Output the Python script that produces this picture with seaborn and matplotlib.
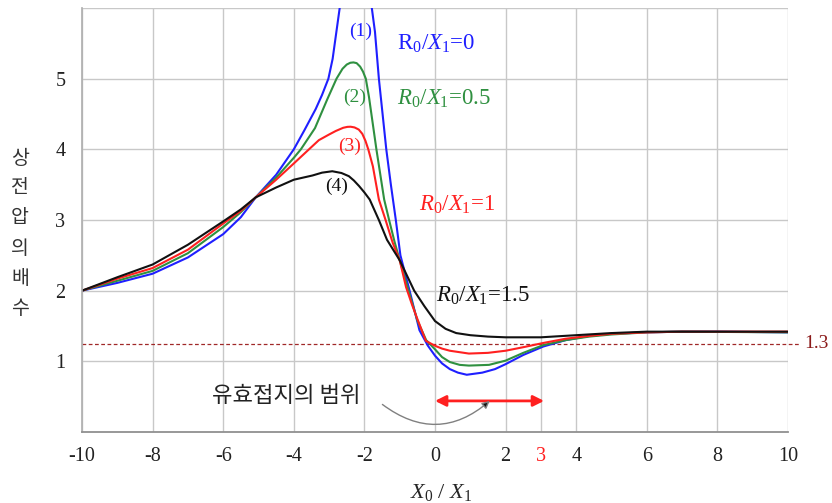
import matplotlib
matplotlib.use("Agg")
import matplotlib.pyplot as plt
import seaborn as sns
import pandas as pd

# ---- data ----
blue_left_x = [-10, -9, -8, -7, -6, -5.5, -5.08, -4.5, -4, -3.7, -3.38, -3.2, -3.02, -2.9, -2.8, -2.7, -2.6]
blue_left_y = [2.00, 2.11, 2.24, 2.47, 2.80, 3.04, 3.32, 3.64, 4.00, 4.27, 4.57, 4.77, 5.00, 5.28, 5.64, 6.00, 6.50]
blue_right_x = [-1.9, -1.79, -1.70, -1.59, -1.38, -1.25, -1.11, -0.98, -0.72, -0.44, -0.2, 0, 0.2, 0.42, 0.65, 0.9, 1.34, 1.7, 2.0, 2.5, 3.07, 3.7, 4.37, 5, 6, 7, 8, 10]
blue_right_y = [6.60, 6.00, 5.66, 5.00, 4.00, 3.50, 3.00, 2.50, 2.00, 1.44, 1.22, 1.08, 0.97, 0.89, 0.84, 0.81, 0.84, 0.89, 0.96, 1.09, 1.21, 1.30, 1.36, 1.39, 1.41, 1.42, 1.42, 1.41]

green_x = [-10, -9, -8, -7, -6, -5.5, -5.08, -4.5, -4, -3.8, -3.4, -3.05, -2.79, -2.62, -2.5, -2.4, -2.31, -2.22, -2.12, -2.04, -1.96, -1.87, -1.66, -1.44, -1.3, -1.15, -1.0, -0.75, -0.5, -0.25, 0, 0.2, 0.42, 0.7, 0.96, 1.53, 2.0, 2.5, 3.07, 3.7, 4.37, 5, 6, 7, 10]
green_y = [2.00, 2.14, 2.28, 2.53, 2.90, 3.11, 3.32, 3.60, 3.88, 4.00, 4.30, 4.71, 5.00, 5.14, 5.20, 5.225, 5.23, 5.22, 5.17, 5.10, 5.00, 4.74, 4.00, 3.29, 3.00, 2.70, 2.43, 2.00, 1.58, 1.30, 1.17, 1.06, 0.99, 0.95, 0.94, 0.95, 1.01, 1.12, 1.23, 1.30, 1.35, 1.38, 1.41, 1.42, 1.41]

red_x = [-10, -9, -8, -7, -6, -5.5, -5.08, -4.5, -4, -3.57, -3.29, -3.0, -2.81, -2.6, -2.48, -2.39, -2.28, -2.16, -2.06, -1.97, -1.89, -1.76, -1.59, -1.40, -1.2, -1.0, -0.82, -0.65, -0.5, -0.26, 0, 0.2, 0.42, 0.96, 1.5, 2.0, 2.5, 3.07, 3.7, 4.37, 5, 6, 7, 10]
red_y = [2.00, 2.17, 2.32, 2.58, 2.95, 3.13, 3.32, 3.57, 3.80, 4.00, 4.13, 4.21, 4.26, 4.305, 4.318, 4.32, 4.31, 4.28, 4.22, 4.12, 4.00, 3.76, 3.29, 3.00, 2.68, 2.43, 2.05, 1.80, 1.60, 1.29, 1.22, 1.18, 1.15, 1.11, 1.12, 1.15, 1.20, 1.26, 1.32, 1.36, 1.39, 1.41, 1.42, 1.42]

black_x = [-10, -9, -8, -7, -6, -5.5, -5.08, -4.5, -4, -3.47, -3.2, -2.91, -2.65, -2.44, -2.3, -2.15, -2.0, -1.85, -1.59, -1.36, -1.0, -0.59, -0.3, 0, 0.3, 0.6, 1.0, 1.5, 2, 3, 4, 5, 6, 10]
black_y = [2.00, 2.19, 2.37, 2.65, 2.98, 3.15, 3.32, 3.46, 3.57, 3.63, 3.67, 3.69, 3.665, 3.62, 3.56, 3.48, 3.39, 3.29, 3.00, 2.72, 2.43, 2.00, 1.78, 1.57, 1.46, 1.40, 1.37, 1.35, 1.34, 1.34, 1.37, 1.40, 1.42, 1.42]

x_ticks = [-10, -8, -6, -4, -2, 0, 2, 4, 6, 8, 10]
extra_tick = 3
y_ticks = [1, 2, 3, 4, 5]
limit_value = 1.25
limit_label = "1.3"
range_start, range_end = 0, 3
ylabel_text = "상전압의배수"
range_text = "유효접지의 범위"

C_BLUE = "#1f1fff"
C_GREEN = "#2f9040"
C_RED = "#ff2020"
C_BLACK = "#111111"

sns.set_theme(style="white")
plt.rcParams["font.family"] = ["Liberation Serif", "DejaVu Serif"]
plt.rcParams["mathtext.fontset"] = "custom"
plt.rcParams["mathtext.rm"] = "Liberation Serif"
plt.rcParams["mathtext.it"] = "Liberation Serif:italic"

fig = plt.figure(figsize=(8.32, 5.03), dpi=100)
ax = fig.add_axes([82/832, 1-432/503, (788-82)/832, (432-8)/503])

ax.set_xlim(-10, 10)
ax.set_ylim(0, 6)

# grid
grid_c = "#c8c8c8"
for xv in x_ticks:
    ax.axvline(xv, color=grid_c, lw=1.0, zorder=0)
for yv in y_ticks + [6]:
    ax.axhline(yv, color=grid_c, lw=1.0, zorder=0)
ax.vlines(extra_tick, 0, 1.6, color=grid_c, lw=1.0, zorder=0)

def draw(xs, ys, c):
    df = pd.DataFrame({"x": xs, "y": ys})
    sns.lineplot(data=df, x="x", y="y", color=c, lw=1.5, ax=ax, estimator=None, sort=False)

draw(blue_left_x, blue_left_y, C_BLUE)
draw(blue_right_x, blue_right_y, C_BLUE)
draw(green_x, green_y, C_GREEN)
draw(red_x, red_y, C_RED)
draw(black_x, black_y, C_BLACK)

# limit dashed line
ax.plot([-10, 10.32], [limit_value, limit_value], ls=(0, (3, 2)), color="#a02828", lw=0.9, clip_on=False, zorder=1)
ax.text(10.45, limit_value, limit_label, color="#8b1a1a", fontsize=14, va="center", ha="left")

# spines
for s in ["top", "right"]:
    ax.spines[s].set_visible(False)
ax.spines["left"].set_color("#b0b0b0")
ax.spines["bottom"].set_color("#909090")
ax.spines["bottom"].set_linewidth(1.3)

ax.set_xticks(x_ticks + [extra_tick])
ax.set_xticklabels([str(v) for v in x_ticks] + [str(extra_tick)])
ax.set_yticks(y_ticks)
ax.set_yticklabels([str(v) for v in y_ticks])
ax.tick_params(axis="both", length=0, labelsize=14.5, colors="#222222")
ax.tick_params(axis="x", pad=11)
ax.tick_params(axis="y", pad=12)
for lab in ax.get_xticklabels():
    if lab.get_text() == str(extra_tick):
        lab.set_color(C_RED)
ax.set_xlabel("")
ax.set_ylabel("")

ax.text(0.508, -0.142, r"$X_0\ /\ X_1$", transform=ax.transAxes, fontsize=16, ha="center", va="center")

# stacked y label
for i, ch in enumerate(ylabel_text):
    fig.text(20/832, 1 - (158 + i*30)/503, ch, fontsize=14, ha="center", va="center",
             color="#333333", family=["Noto Sans CJK KR", "DejaVu Sans"])

# curve labels
ax.text(-2.1, 5.67, "(1)", color=C_BLUE, fontsize=14, ha="center", va="center")
ax.text(-1.08, 5.49, r"$\mathrm{R}_0/X_1$=0", color=C_BLUE, fontsize=16.5, ha="left", va="center")
ax.text(-2.29, 4.73, "(2)", color=C_GREEN, fontsize=14, ha="center", va="center")
ax.text(-1.08, 4.71, r"$R_0/X_1$=0.5", color=C_GREEN, fontsize=16.5, ha="left", va="center")
ax.text(-2.43, 4.04, "(3)", color=C_RED, fontsize=14, ha="center", va="center")
ax.text(-0.45, 3.21, r"$R_0/X_1$=1", color=C_RED, fontsize=16.5, ha="left", va="center")
ax.text(-2.8, 3.47, "(4)", color=C_BLACK, fontsize=14, ha="center", va="center")
ax.text(0.03, 1.93, r"$R_0/X_1$=1.5", color=C_BLACK, fontsize=16.5, ha="left", va="center")

# range annotation
ax.annotate("", xy=(range_end + 0.09, 0.44), xytext=(range_start, 0.44),
            arrowprops=dict(arrowstyle="<|-|>", color=C_RED, lw=2.0, mutation_scale=16, shrinkA=0, shrinkB=0))
ax.text(-4.2, 0.51, range_text, fontsize=16, ha="center", va="center", color="#222222",
        family=["Noto Sans CJK KR", "DejaVu Sans"])
ax.annotate("", xy=(1.55, 0.44), xytext=(-1.49, 0.39),
            arrowprops=dict(arrowstyle="-|>", ec="#808080", fc="#111111", lw=1.0, mutation_scale=11,
                            connectionstyle="arc3,rad=0.4", shrinkA=0, shrinkB=0))

fig.savefig("out.png", dpi=100)
